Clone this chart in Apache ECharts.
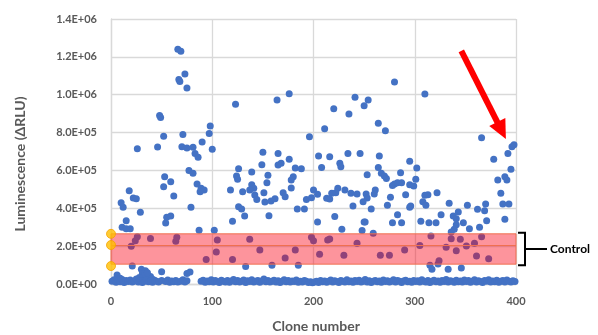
<!DOCTYPE html>
<html>
<head>
<meta charset="utf-8">
<script src="https://cdn.jsdelivr.net/npm/echarts@6.0.0/dist/echarts.min.js"></script>
<style>
  html, body { margin: 0; padding: 0; background: #fff; }
  #chart { width: 598px; height: 335px; }
</style>
</head>
<body>
<div id="chart"></div>
<script>
// clones clearly above the baseline: [clone number, luminescence ΔRLU]
const upperClones = [
  [66,1240000],[69,1230000],[73,1110000],[67,1080000],[68,1070000],[75,1035000],[48,890000],[49,880000],
  [98,835000],[52,780000],[71,790000],[97,795000],[90,750000],[26,715000],[46,724000],[70,725000],
  [75,718000],[81,722000],[100,712000],[123,950000],[164,972000],[176,1005000],[241,986000],[254,972000],
  [220,926000],[250,942000],[235,898000],[211,820000],[196,778000],[280,1067000],[310,1004000],[264,849000],
  [271,810000],[366,773000],
  [83,690000],[86,669000],[77,599000],[81,585000],[53,567000],[59,540000],[52,514000],[85,528000],
  [89,506000],[92,497000],[88,488000],[62,465000],[18,493000],[22,454000],[25,451000],[10,429000],
  [12,405000],[29,379000],[79,405000],[55,352000],[59,359000],[54,322000],[15,334000],[11,300000],
  [15,292000],[19,292000],[87,284000],[102,284000],
  [26,250000],[24,229000],[20,200000],[39,241000],[65,247000],[64,226000],[105,232000],[104,169000],
  [94,130000],[120,130000],[21,95000],
  [30,78000],[34,70000],[31,56000],[35,48000],[39,39000],[50,65000],[75,56000],[78,63000],[6,48000],
  [9,30000],[33,45000],[37,30000],[41,25000],[36,60000],[28,35000],
  [150,696000],[165,690000],[149,630000],[165,629000],[168,638000],[176,659000],[182,613000],[188,609000],
  [126,609000],[139,592000],[124,571000],[125,553000],[155,574000],[154,535000],[180,567000],[178,549000],
  [178,507000],[118,497000],[130,488000],[139,525000],[141,506000],[137,497000],[142,470000],[144,447000],
  [151,482000],[152,433000],[158,438000],[162,451000],[170,482000],[172,461000],[126,408000],[129,396000],
  [132,359000],[120,331000],[156,361000],[184,396000],[191,396000],[193,447000],[198,456000],[200,497000],
  [204,474000],[205,676000],[216,672000],[208,616000],[226,638000],[227,620000],[234,690000],[246,690000],
  [253,577000],[224,506000],[222,482000],[218,479000],[213,453000],[216,449000],[231,497000],[237,479000],
  [243,475000],[239,412000],[252,475000],[253,454000],[221,356000],[204,328000],[228,289000],[250,328000],
  [248,282000],
  [137,236000],[147,180000],[182,180000],[172,137000],[133,92000],[159,99000],[185,99000],[198,247000],
  [200,229000],[214,232000],[216,238000],[206,157000],[230,152000],[243,215000],
  [265,676000],[295,648000],[302,613000],[264,616000],[267,585000],[270,571000],[272,558000],[286,588000],
  [280,528000],[278,521000],[283,535000],[287,535000],[295,525000],[299,518000],[301,553000],[261,497000],
  [260,475000],[249,435000],[276,458000],[291,472000],[273,416000],[257,396000],[295,405000],[296,412000],
  [283,366000],[251,328000],[278,324000],[287,324000],[259,268000],[310,469000],[313,472000],[308,435000],
  [311,416000],[322,482000],[306,331000],[314,324000],[321,324000],[326,366000],[334,426000],[338,359000],
  [343,380000],[341,345000],[341,313000],[339,289000],[336,275000],[348,324000],[354,292000],[364,300000],
  [352,416000],[362,395000],[369,387000],[370,423000],[371,334000],[378,659000],[382,549000],[389,567000],
  [391,549000],[395,606000],[392,690000],[396,725000],[398,736000],[385,479000],[387,423000],[393,423000],
  [389,342000],
  [305,204000],[316,254000],[336,239000],[345,236000],[341,176000],[331,194000],[351,201000],[359,215000],
  [366,250000],[361,148000],[373,134000],[266,152000],[275,152000],[290,180000],[315,99000],[317,78000],
  [323,106000],[324,123000],[333,78000],[346,85000]
];

// clones sitting on the baseline
const baselineClones = [
  [1,15000],[3,22000],[5,9000],[7,17000],[9,12000],[11,24000],[13,8000],[15,19000],[17,13000],[19,21000],
  [21,10000],[23,16000],[25,26000],[27,11000],[29,18000],[31,8000],[33,14000],[35,23000],[37,12000],[39,17000],
  [41,9000],[43,20000],[45,14000],[47,11000],[50,18000],[54,13000],[56,21000],[58,9000],[60,16000],[62,12000],
  [64,19000],[66,10000],[69,15000],[71,22000],[73,11000],[75,17000],
  [89,14000],[91,20000],[93,9000],[95,16000],[97,12000],[99,23000],[101,10000],[103,18000],[105,13000],[107,8000],
  [109,20000],[111,15000],[113,11000],[115,19000],[117,9000],[119,16000],[121,24000],[123,12000],[125,18000],[127,10000],
  [129,14000],[131,21000],[133,8000],[135,17000],[137,13000],[139,22000],[141,11000],[143,15000],[145,19000],[147,9000],
  [149,16000],[151,26000],[153,12000],[155,18000],[157,10000],[159,14000],[161,20000],[163,11000],[165,17000],[167,8000],
  [169,15000],[171,23000],[173,12000],[175,19000],[177,10000],[179,16000],[181,13000],[183,21000],[185,9000],[187,15000],
  [189,11000],[191,18000],[193,14000],[195,8000],[197,12000],[199,7000],[201,10000],[203,15000],[205,8000],[207,19000],
  [209,12000],[211,16000],[213,9000],[215,14000],[217,21000],[219,11000],[221,17000],[223,13000],[225,8000],[227,19000],
  [229,15000],[231,10000],[233,22000],[235,12000],[237,16000],[239,9000],[241,18000],[243,13000],[245,20000],[247,10000],
  [249,15000],[251,24000],[253,11000],[255,17000],[257,8000],[259,14000],[261,19000],[263,12000],[265,16000],[267,9000],
  [269,21000],[271,13000],[273,17000],[275,10000],[277,15000],[279,22000],[281,11000],[283,18000],[285,14000],[287,8000],
  [289,16000],[291,20000],[293,12000],[295,15000],[297,9000],[299,19000],[301,13000],[303,17000],[305,10000],[307,22000],
  [309,14000],[311,11000],[313,18000],[315,8000],[317,15000],[319,20000],[321,12000],[323,16000],[325,9000],[327,19000],
  [329,13000],[331,24000],[333,11000],[335,17000],[337,14000],[339,9000],[341,20000],[343,12000],[345,16000],[347,10000],
  [349,21000],[351,13000],[353,18000],[355,9000],[357,15000],[359,22000],[361,11000],[363,17000],[365,13000],[367,8000],
  [369,19000],[371,14000],[373,23000],[375,10000],[377,16000],[379,12000],[381,20000],[383,9000],[385,15000],[387,18000],
  [389,11000],[391,21000],[393,14000],[395,10000],[397,17000],[399,13000]
];

// control wells plotted at clone 0, and the control range drawn as a band
const controlValues = [265000, 206000, 95000];
const controlBand = [105000, 265000];
const controlMid = 207000;
const arrowFrom = [346, 1232000];
const arrowTo = [390, 766000];

const sciLabel = v => {
  const parts = v.toExponential(1).split('e');
  const exp = parseInt(parts[1], 10);
  return parts[0] + 'E' + (exp < 0 ? '-' : '+') + String(Math.abs(exp)).padStart(2, '0');
};

const labelStyle = { color: '#595959', fontSize: 11, fontWeight: 'bold', fontFamily: 'Lato' };
const gridColor = '#d9d9d9';

const chart = echarts.init(document.getElementById('chart'));

chart.setOption({
  animation: false,
  backgroundColor: '#fff',
  grid: { left: 111, right: 82, top: 19, bottom: 51, outerBoundsMode: 'none' },
  xAxis: {
    type: 'value', min: 0, max: 400, interval: 100,
    axisLine: { show: true, lineStyle: { color: gridColor, width: 1.3 } },
    axisTick: { show: false },
    splitLine: { show: true, lineStyle: { color: gridColor, width: 1.3 } },
    axisLabel: Object.assign({ margin: 12 }, labelStyle)
  },
  yAxis: {
    type: 'value', min: 0, max: 1400000, interval: 200000,
    axisLine: { show: true, lineStyle: { color: gridColor, width: 1.3 } },
    axisTick: { show: false },
    splitLine: { show: true, lineStyle: { color: gridColor, width: 1.3 } },
    axisLabel: Object.assign({ margin: 14, formatter: sciLabel }, labelStyle)
  },
  series: [
    {
      name: 'Clones', type: 'scatter', z: 2,
      symbolSize: 7,
      itemStyle: { color: '#4472C4', opacity: 1 },
      data: upperClones.concat(baselineClones)
    },
    {
      name: 'Control range', type: 'scatter', z: 4,
      data: [],
      markArea: {
        z: 4, silent: true,
        itemStyle: { color: 'rgba(250,0,20,0.42)', borderColor: '#F07050', borderWidth: 1 },
        data: [[{ coord: [0, controlBand[0]] }, { coord: [400, controlBand[1]] }]]
      },
      markLine: {
        z: 5, silent: true, symbol: 'none', label: { show: false },
        lineStyle: { color: '#F07050', width: 1, type: 'solid' },
        data: [{ yAxis: controlMid }]
      }
    },
    {
      name: 'Controls', type: 'scatter', z: 6,
      symbolSize: 9,
      itemStyle: { color: '#FFBF00', borderColor: '#F5A200', borderWidth: 1 },
      data: controlValues.map(v => [0, v])
    }
  ]
});

// annotations placed from data coordinates
const px = p => chart.convertToPixel({ gridIndex: 0 }, p);
const bandTop = px([400, controlBand[1]]);
const bandBot = px([400, controlBand[0]]);
const bx = bandTop[0] + 9;
const midY = (bandTop[1] + bandBot[1]) / 2;
const s = px(arrowFrom), t = px(arrowTo);
const dx = t[0] - s[0], dy = t[1] - s[1];
const len = Math.sqrt(dx * dx + dy * dy);
const ux = dx / len, uy = dy / len;
const headLen = 19, headHalf = 9;
const baseX = t[0] - ux * headLen, baseY = t[1] - uy * headLen;

chart.setOption({
  graphic: [
    {
      type: 'text', x: 20, y: 164, rotation: Math.PI / 2,
      style: { text: 'Luminescence (ΔRLU)', fill: '#595959', font: 'bold 14px Lato', align: 'center', verticalAlign: 'middle' }
    },
    {
      type: 'text', x: 316, y: 326,
      style: { text: 'Clone number', fill: '#595959', font: 'bold 14px Lato', align: 'center', verticalAlign: 'middle' }
    },
    {
      type: 'polyline',
      shape: { points: [[bx - 7, bandTop[1] - 1], [bx, bandTop[1] - 1], [bx, bandBot[1] + 1], [bx - 7, bandBot[1] + 1]] },
      style: { stroke: '#000', lineWidth: 2, fill: null }
    },
    {
      type: 'line', shape: { x1: bx, y1: midY, x2: bx + 22, y2: midY },
      style: { stroke: '#000', lineWidth: 2 }
    },
    {
      type: 'text', x: bx + 25, y: midY,
      style: { text: 'Control', fill: '#000', font: 'bold 12px Lato', align: 'left', verticalAlign: 'middle' }
    },
    {
      type: 'line', shape: { x1: s[0], y1: s[1], x2: baseX + ux * 2, y2: baseY + uy * 2 },
      style: { stroke: '#FF0000', lineWidth: 6 }
    },
    {
      type: 'polygon',
      shape: { points: [[t[0], t[1]], [baseX - uy * headHalf, baseY + ux * headHalf], [baseX + uy * headHalf, baseY - ux * headHalf]] },
      style: { fill: '#FF0000' }
    }
  ]
});
</script>
</body>
</html>
